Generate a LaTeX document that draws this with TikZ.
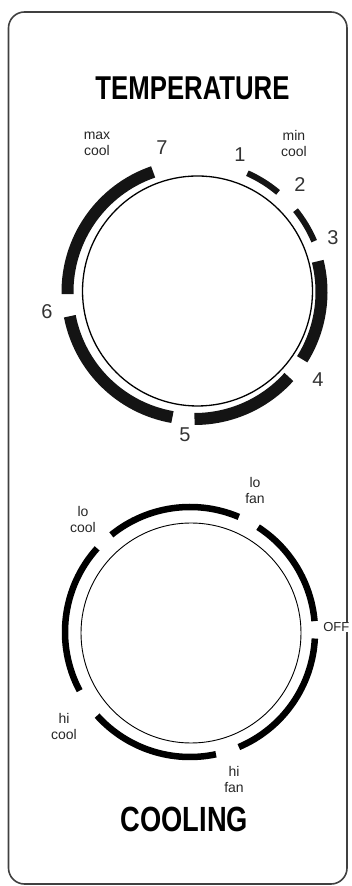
\documentclass[tikz,border=0pt]{standalone}
\usepackage{fontspec}
\setmainfont{Liberation Sans}
\newfontfamily\condfont[FakeStretch=0.78]{Liberation Sans}
\begin{document}
\begin{tikzpicture}[x=1pt,y=1pt,
  frame/.style={draw=black!75,line width=1.6pt,rounded corners=16pt},
  thickarc/.style={draw=black!92,line width=12pt,line cap=butt},
  thinarc/.style={draw=black!92,line width=6pt,line cap=butt},
  coolarc/.style={draw=black,line width=6.5pt,line cap=butt},
  dialring/.style={draw=black,line width=1.3pt},
  dialringthin/.style={draw=black,line width=0.9pt},
  digit/.style={text=black!80,font=\fontsize{20}{20}\selectfont,inner sep=0pt},
  small/.style={text=black!85,font=\fontsize{14}{16}\selectfont,align=center,inner sep=0pt},
  title/.style={font=\condfont\bfseries\fontsize{33}{33}\selectfont,inner sep=0pt}]
\useasboundingbox (0,0) rectangle (351,886);
\draw[frame] (8.5,2) rectangle (347,874);
% centres
\coordinate (tc) at (194.5,594);
\coordinate (tcc) at (197.5,595);
\coordinate (cc) at (190,254);
\coordinate (ccc) at (191,253);
% temperature dial
\draw[dialring] (tcc) circle[radius=115];
\draw[thickarc] (tc) ++(109:127) arc[start angle=109,end angle=181,radius=127];
\draw[thickarc] (tc) ++(191:127) arc[start angle=191,end angle=260,radius=127];
\draw[thickarc] (tc) ++(270:127) arc[start angle=270,end angle=318,radius=127];
\draw[thickarc] (tc) ++(-32:127) arc[start angle=-32,end angle=14,radius=127];
\draw[thinarc] (tc) ++(23:130) arc[start angle=23,end angle=39,radius=130];
\draw[thinarc] (tc) ++(50:130) arc[start angle=50,end angle=66,radius=130];
\node[title] (ttitle) at (192.5,798) {TEMPERATURE};
\node[digit] (d1) at (240,731) {1};
\node[digit] (d2) at (300,701) {2};
\node[digit] (d3) at (333,648) {3};
\node[digit] (d4) at (318,506) {4};
\node[digit] (d5) at (185,451) {5};
\node[digit] (d6) at (47,574) {6};
\node[digit] (d7) at (162,738) {7};
\node[small] (maxc) at (97,742) {max\\cool};
\node[small] (minc) at (294,742) {min\\cool};
% cooling dial
\draw[dialringthin] (ccc) circle[radius=110];
\draw[coolarc] (cc) ++(67:125) arc[start angle=67,end angle=129,radius=125];
\draw[coolarc] (cc) ++(5:125) arc[start angle=5,end angle=57,radius=125];
\draw[coolarc] (cc) ++(-67:125) arc[start angle=-67,end angle=-3,radius=125];
\draw[coolarc] (cc) ++(222:125) arc[start angle=222,end angle=282,radius=125];
\draw[coolarc] (cc) ++(138:125) arc[start angle=138,end angle=208,radius=125];
\node[small] (lofan) at (255,395) {lo\\fan};
\node[small] (locool) at (83,366) {lo\\cool};
\node[small] (hicool) at (64,160) {hi\\cool};
\node[small] (hifan) at (234,107) {hi\\fan};
\node[small,anchor=east,fill=white,inner xsep=0.5pt,font=\fontsize{13}{15}\selectfont] (off) at (350,259) {OFF};
\node[title,font=\condfont\bfseries\fontsize{35}{35}\selectfont] (ctitle) at (184.5,67) {COOLING};
\end{tikzpicture}
\end{document}
